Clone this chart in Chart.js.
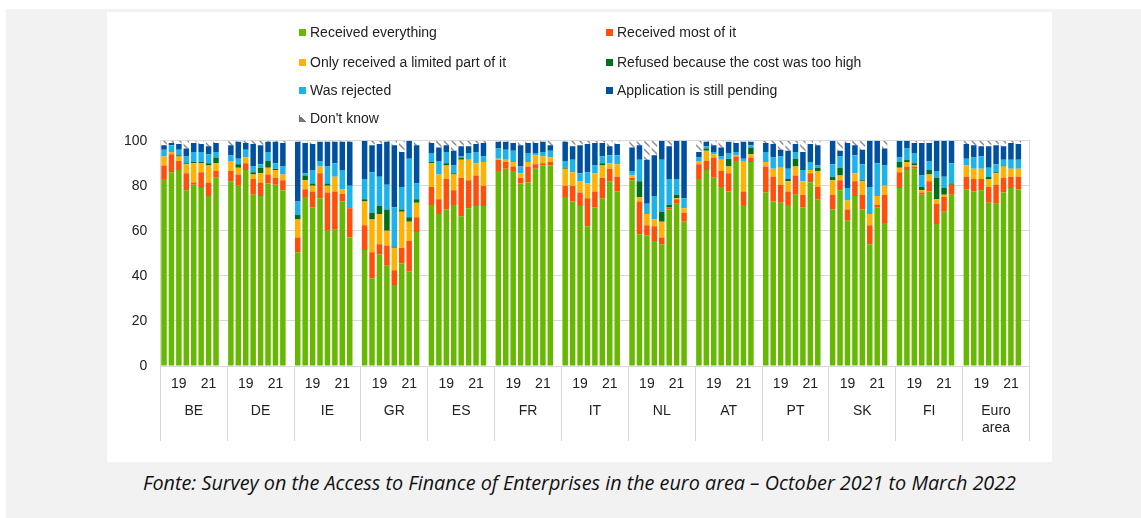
<!DOCTYPE html>
<html>
<head>
<meta charset="utf-8">
<script src="https://cdn.jsdelivr.net/npm/chart.js@4.4.1/dist/chart.umd.min.js"></script>
<style>
  body { margin: 0; background: #fff; font-family: "Liberation Sans", Arial, sans-serif; }
  #frame { position: absolute; left: 6px; top: 9px; width: 1135px; height: 509px; background: #f2f2f2; }
  #panel { position: absolute; left: 107px; top: 12px; width: 945px; height: 450px; background: #fff; }
  #chart { position: absolute; left: 0; top: 0; }
  .lg { position: absolute; font-size: 14px; line-height: 16px; color: #222; white-space: nowrap; }
  .lg i { display: inline-block; width: 7px; height: 7px; margin-right: 4px; vertical-align: 1px; }
  #caption { position: absolute; left: 107px; width: 945px; top: 470px; text-align: center;
             font-family: "Open Sans", "Noto Sans", sans-serif; font-style: italic; color: #111; white-space: nowrap; }
</style>
</head>
<body>
<div id="frame"></div>
<div id="panel">
  <canvas id="chart" width="945" height="450"></canvas>
  <div id="legend"></div>
</div>
<div id="caption"><span id="captionText">Fonte: Survey on the Access to Finance of Enterprises in the euro area – October 2021 to March 2022</span></div>
<script>
// 13 countries x 8 survey rounds (2018H1 ... 2021H2)
const countries = ['BE', 'DE', 'IE', 'GR', 'ES', 'FR', 'IT', 'NL', 'AT', 'PT', 'SK', 'FI', ['Euro', 'area']];
const roundTicks = ['', '', '19', '', '', '', '21', ''];

const received = [
  83, 86, 87, 78, 80.5, 79, 75.5, 83.5,
  82, 80, 87, 76, 75.5, 81, 80.5, 78,
  50.5, 75, 70.5, 74.5, 60, 60.5, 73, 57,
  51.5, 39, 49.5, 44.5, 36, 45.5, 42, 59.5,
  71.5, 67.5, 69.5, 71.5, 66.5, 70, 71, 71,
  86.5, 87.5, 86.5, 81, 81.5, 87.5, 89, 89,
  75, 73, 71, 62, 70.5, 74.5, 82, 77.5,
  82.5, 58.5, 58, 55.5, 54, 69.5, 72, 64,
  83, 87, 83.5, 79.5, 77.5, 91, 71.5, 90.5,
  77, 73, 72.5, 71.5, 76, 70.5, 81.5, 74,
  69.5, 78, 64.5, 75.5, 69.5, 54, 70.5, 63.5,
  79, 87, 87.5, 76, 77.5, 63, 68.5, 76,
  78.5, 77.5, 78, 72.5, 72, 77, 79, 78.5
];
const receivedMost = [
  6, 8, 4, 7.5, 1, 7, 6, 3,
  4.5, 5, 3, 7, 6, 4, 3, 4.5,
  6.5, 3.5, 7, 11, 17, 17, 3.5, 13,
  11, 11.5, 4.5, 9, 6.5, 7, 13.5, 6.5,
  8, 6.5, 13.5, 6.5, 17, 12.5, 13.5, 9,
  5, 3, 2, 2.5, 7, 2, 1, 1.5,
  5, 7, 6, 12.5, 7, 9, 5.5, 6.5,
  1, 14.5, 4.5, 6.5, 3, 1, 2, 4,
  6.5, 4, 9, 7, 8, 2, 6, 2,
  11.5, 11, 8, 6, 8.5, 5.5, 4, 5.5,
  6.5, 4.5, 5, 6.5, 6.5, 8.5, 1, 12.5,
  7, 1.5, 1, 1, 4.5, 9, 6.5, 4.5,
  5.5, 5.5, 5, 7, 8.5, 6.5, 5, 5.5
];
const limitedPart = [
  4, 1, 2, 4, 8.5, 4, 7.5, 3.5,
  4.5, 3, 2.5, 2, 4, 3, 3.5, 2.5,
  8, 4, 2.5, 3, 3, 6.5, 2, 0,
  10.5, 14.5, 13.5, 6.5, 10, 16, 8.5, 6.5,
  10.5, 11, 6, 7, 8, 9, 5.5, 10.5,
  0.5, 1, 2, 2, 2, 4, 3, 2,
  7.5, 6, 5, 6.5, 8, 5.5, 2.5, 5.5,
  1, 2, 5, 3, 7, 0, 0.5, 2,
  1.5, 4.5, 1.5, 5, 3, 0.5, 13.5, 1.5,
  2, 3.5, 7.5, 4.5, 4, 6, 1.5, 7,
  6.5, 2, 4, 3.5, 6, 5, 4, 4,
  2, 2, 0.5, 1, 3, 2, 1, 0,
  5, 4.5, 4.5, 3.5, 5, 5, 3.5, 3.5
];
const refusedCost = [
  0, 0, 0.5, 0.5, 0.5, 0.5, 1, 2.5,
  0, 1.5, 0, 1, 2.5, 3, 0.5, 0,
  2, 2, 1, 0, 1, 0, 0, 0,
  1, 3, 3.5, 9.5, 0.5, 1, 2, 1.5,
  0.5, 0, 1, 0.5, 1, 0, 0, 0,
  0, 0, 0, 0, 0, 0, 0, 0,
  0.5, 0, 0, 0, 0, 1, 0, 0,
  0, 7, 0, 0, 4.5, 1, 1.5, 0,
  0, 1, 0, 0, 3.5, 0, 0, 3,
  0, 0, 0, 1, 3.5, 0, 0, 1.5,
  1.5, 3.5, 0, 0, 0.5, 0, 0, 0,
  2.5, 1, 1, 1.5, 2, 9.5, 3, 0.5,
  0, 0, 0, 1, 0.5, 0.5, 0, 0
];
const rejected = [
  3, 3, 2.5, 3, 4.5, 4.5, 4, 2.5,
  2.5, 2.5, 3.5, 2.5, 1.5, 4, 2.5, 3.5,
  6, 1, 6, 2.5, 7.5, 6, 8.5, 10,
  9, 18, 13, 11, 17.5, 10, 26, 7,
  4, 6, 5, 3.5, 0.5, 3, 5, 2.5,
  4.5, 4.5, 5, 3, 4, 1, 2, 3,
  3, 5.5, 3.5, 5, 3.5, 3, 3.5, 4,
  2, 9.5, 4.5, 10.5, 23, 11.5, 7, 4.5,
  1.5, 1, 1, 1.5, 2.5, 1.5, 1, 1,
  4.5, 5, 5, 4.5, 3, 5, 3.5, 1,
  5.5, 5, 5.5, 8, 7, 12, 14.5, 9,
  2, 5, 4.5, 5, 4, 3, 5, 9,
  3, 5, 5.5, 4, 3.5, 2.5, 4, 4
];
const pending = [
  2, 1, 2.5, 3.5, 4, 3.5, 3.5, 4,
  4.5, 7.5, 3, 10, 8.5, 4.5, 9.5, 10.5,
  26.5, 13.5, 11.5, 8.5, 11, 9.5, 12.5, 19.5,
  17, 12, 14.5, 19, 27.5, 15.5, 8, 17,
  4.5, 6, 3, 6.5, 4.5, 3, 3.5, 6,
  3, 3.5, 3.5, 9.5, 4.5, 4.5, 4.5, 2.5,
  8.5, 6, 12.5, 12.5, 10, 6, 4, 5,
  10.5, 6.5, 19.5, 18, 8.5, 14.5, 17, 25.5,
  2.5, 2, 3, 4, 5, 4, 7.5, 1.5,
  4, 6, 3, 8, 3.5, 8, 8, 9,
  10.5, 2.5, 20, 4.5, 6.5, 20.5, 10, 7.5,
  7.5, 3.5, 4.5, 14.5, 8, 13.5, 16, 10,
  6.5, 5.5, 4.5, 9.5, 8.5, 6, 7.5, 7
];
const dontKnow = [
  2, 1, 1.5, 3.5, 1, 1.5, 2.5, 1,
  2, 0.5, 1, 1.5, 2, 0.5, 0.5, 1,
  0.5, 1, 1.5, 0.5, 0.5, 0.5, 0.5, 0.5,
  0, 2, 1.5, 0.5, 2, 5, 0, 2,
  1, 3, 2, 4.5, 2.5, 2.5, 1.5, 1,
  0.5, 0.5, 1, 2, 1, 1, 0.5, 2,
  0.5, 2.5, 2, 1.5, 1, 1, 2.5, 1.5,
  3, 2, 8.5, 6.5, 0, 2.5, 0, 0,
  5, 0.5, 2, 3, 0.5, 1, 0.5, 0.5,
  1, 1.5, 4, 4.5, 1.5, 5, 1.5, 2,
  0, 4.5, 1, 2, 4, 0, 0, 3.5,
  0, 0, 1, 1, 1, 0, 0, 0,
  1.5, 2, 2.5, 2.5, 2, 2.5, 1, 1.5
];

const ROUNDS = 8;
const SLOTS = ROUNDS + 1; // one empty slot after each country

// spread the 8 values of every country over 9 category slots
function withGaps(values) {
  const out = [];
  values.forEach((v, i) => {
    out.push(v);
    if (i % ROUNDS === ROUNDS - 1) out.push(null);
  });
  return out;
}
const slotLabels = [];
countries.forEach(() => { roundTicks.forEach(t => slotLabels.push(t)); slotLabels.push(''); });

function hatch() {
  const c = document.createElement('canvas');
  c.width = 8; c.height = 8;
  const g = c.getContext('2d');
  g.fillStyle = '#fff';
  g.fillRect(0, 0, 8, 8);
  g.strokeStyle = '#8a8a8a';
  g.lineWidth = 1.4;
  g.beginPath();
  g.moveTo(0, 0); g.lineTo(8, 8);
  g.moveTo(-1, 7); g.lineTo(1, 9);
  g.moveTo(7, -1); g.lineTo(9, 1);
  g.stroke();
  return g.createPattern(c, 'repeat');
}

const series = [
  { label: 'Received everything', data: received, color: '#66b800' },
  { label: 'Received most of it', data: receivedMost, color: '#ff4f0a' },
  { label: 'Only received a limited part of it', data: limitedPart, color: '#ffb300' },
  { label: 'Refused because the cost was too high', data: refusedCost, color: '#006f1c' },
  { label: 'Was rejected', data: rejected, color: '#1bb3ea' },
  { label: 'Application is still pending', data: pending, color: '#0050a0' },
  { label: "Don't know", data: dontKnow, color: hatch() }
];

// legend: two columns, as in the source
const legendPos = [[192, 12], [499, 12], [192, 42], [499, 42], [192, 70], [499, 70], [192, 98]];
const legend = document.getElementById('legend');
series.forEach((s, i) => {
  const d = document.createElement('div');
  d.className = 'lg';
  d.style.left = legendPos[i][0] + 'px';
  d.style.top = legendPos[i][1] + 'px';
  const box = document.createElement('i');
  box.style.background = typeof s.color === 'string' ? s.color
    : 'linear-gradient(to top right, #777 50%, transparent 50%)';
  d.appendChild(box);
  d.appendChild(document.createTextNode(s.label));
  legend.appendChild(d);
});

const GRID = '#d9d9d9';
const font = { family: '"Liberation Sans", Arial, sans-serif', size: 14 };

new Chart(document.getElementById('chart'), {
  type: 'bar',
  data: {
    labels: slotLabels,
    datasets: series.map(s => ({
      label: s.label,
      data: withGaps(s.data),
      backgroundColor: s.color,
      borderWidth: 0,
      categoryPercentage: 1,
      barPercentage: 0.74
    }))
  },
  options: {
    responsive: false,
    devicePixelRatio: 1,
    animation: false,
    layout: { padding: { left: 0, right: 22.5, top: 128.7, bottom: 21 } },
    plugins: { legend: { display: false }, tooltip: { enabled: false } },
    scales: {
      x: {
        stacked: true,
        offset: true,
        weight: 0,
        afterFit: s => { s.height = 28; },
        border: { display: true, color: GRID },
        grid: {
          offset: true,
          drawOnChartArea: false,
          tickLength: 28,
          tickColor: c => (c.index === undefined || c.index % SLOTS === 0) ? GRID : 'rgba(0,0,0,0)'
        },
        ticks: { autoSkip: false, maxRotation: 0, padding: -18.4, color: '#222', font }
      },
      x2: {
        type: 'category',
        position: 'bottom',
        labels: countries,
        offset: true,
        weight: 1,
        afterFit: s => { s.height = 47; },
        border: { display: false },
        grid: { offset: true, drawOnChartArea: false, tickLength: 47, tickColor: GRID },
        ticks: { maxRotation: 0, padding: -38.4, color: '#222', font }
      },
      y: {
        stacked: true,
        min: 0,
        max: 100,
        afterFit: s => { s.width = 53.3; },
        border: { display: true, color: GRID },
        grid: { color: GRID, drawTicks: false },
        ticks: { stepSize: 20, padding: 13, color: '#222', font }
      },
      y2: {
        position: 'right',
        min: 0,
        max: 1,
        afterFit: s => { s.width = 0; },
        border: { display: true, color: GRID },
        grid: { display: false },
        ticks: { display: false }
      }
    }
  }
});

// fit the source caption to its original width
const cap = document.getElementById('captionText');
cap.style.fontSize = '16px';
const w = cap.getBoundingClientRect().width;
const size = 16 * 874 / w;
cap.style.fontSize = size.toFixed(2) + 'px';
document.getElementById('caption').style.top = (482 - size * 0.68) + 'px';
</script>
</body>
</html>
